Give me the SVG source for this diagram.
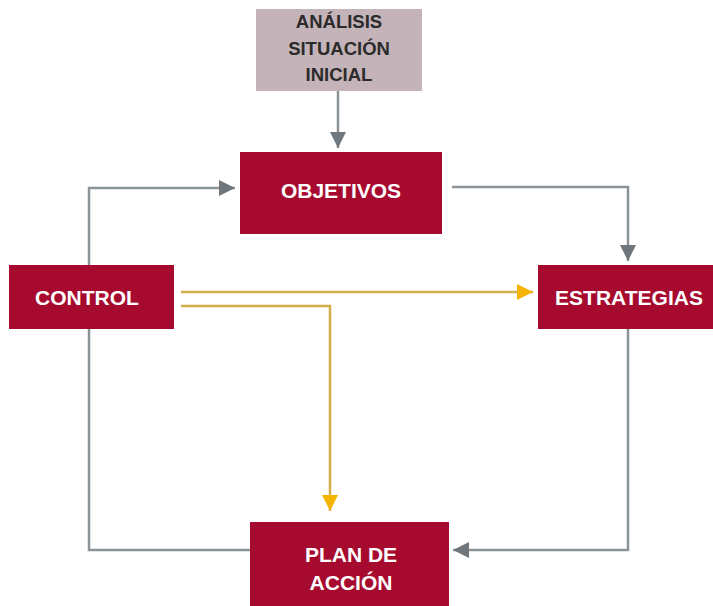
<svg xmlns="http://www.w3.org/2000/svg" width="713" height="606" viewBox="0 0 713 606">
<style>
.box{fill:#a60a2e}
.lbl{font-family:"Liberation Sans",Arial,sans-serif;font-weight:bold;font-size:21px;fill:#ffffff;text-anchor:middle}
.dark{fill:#2b2b2b;font-size:18.5px}
.g{fill:none;stroke:#8c9397;stroke-width:2.5}
.y{fill:none;stroke:#d3ad4b;stroke-width:2.5}
</style>
<defs>
<marker id="ag" viewBox="0 0 10 10" refX="10" refY="5" markerWidth="6.5" markerHeight="6.5" markerUnits="strokeWidth" orient="auto">
<path d="M0,0 L10,5 L0,10 Z" fill="#6f777c"/>
</marker>
<marker id="ay" viewBox="0 0 10 10" refX="10" refY="5" markerWidth="6.5" markerHeight="6.5" markerUnits="strokeWidth" orient="auto">
<path d="M0,0 L10,5 L0,10 Z" fill="#f4b400"/>
</marker>
</defs>
<rect width="713" height="606" fill="#ffffff"/>
<g id="connectors">
<path class="g" d="M338,91 V148" marker-end="url(#ag)"/>
<path class="g" d="M89,265 V188 H235" marker-end="url(#ag)"/>
<path class="g" d="M452,187 H628 V261" marker-end="url(#ag)"/>
<path class="g" d="M89,329 V550 H250"/>
<path class="g" d="M628,329 V550 H453" marker-end="url(#ag)"/>
<path class="y" d="M181,292 H533" marker-end="url(#ay)"/>
<path class="y" d="M181,306 H330 V511" marker-end="url(#ay)"/>
</g>
<g id="analisis">
<rect x="256" y="9" width="166" height="82" fill="#c4b4b9"/>
<text class="lbl dark" x="339" y="28">ANÁLISIS</text>
<text class="lbl dark" x="339" y="55">SITUACIÓN</text>
<text class="lbl dark" x="339" y="81">INICIAL</text>
</g>
<g id="objetivos">
<rect class="box" x="240" y="152" width="202" height="82"/>
<text class="lbl" x="341" y="198">OBJETIVOS</text>
</g>
<g id="control">
<rect class="box" x="9" y="265" width="165" height="64"/>
<text class="lbl" x="87" y="305">CONTROL</text>
</g>
<g id="estrategias">
<rect class="box" x="538" y="265" width="175" height="64"/>
<text class="lbl" x="629" y="305">ESTRATEGIAS</text>
</g>
<g id="plan">
<rect class="box" x="250" y="522" width="199" height="84"/>
<text class="lbl" x="351" y="562">PLAN DE</text>
<text class="lbl" x="351" y="590">ACCIÓN</text>
</g>
</svg>
